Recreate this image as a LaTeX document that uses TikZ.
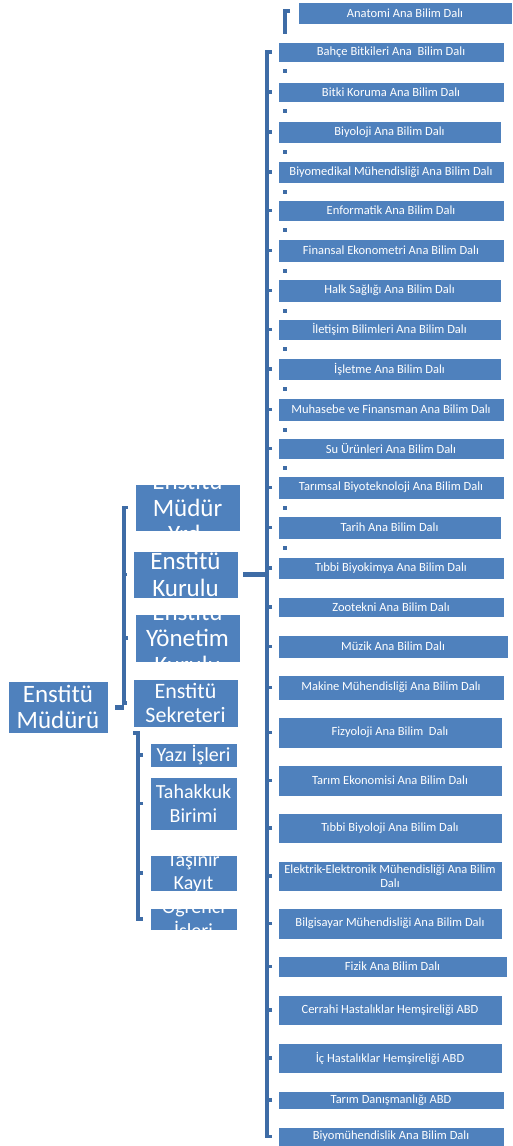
\documentclass[tikz,border=0pt]{standalone}
\usepackage{fontspec}
\setmainfont{Carlito}
\usepackage{xcolor}
\usepackage{tikz}
\definecolor{boxblue}{RGB}{79, 129, 189}
\definecolor{lineblue}{RGB}{62, 108, 166}
\newcommand{\deptfont}{\fontsize{12.5}{14}\selectfont}
\newcommand{\bigfont}{\fontsize{25}{26.5}\selectfont}
\newcommand{\midfont}{\fontsize{22}{24}\selectfont}
\newcommand{\smallfont}{\fontsize{20}{23.5}\selectfont}
\tikzset{
  unit/.style={fill=boxblue, draw=white, line width=0.8pt, inner sep=0pt, outer sep=0pt, text=white, align=center},
  dept/.style={unit, font=\deptfont, minimum width=226, minimum height=#1},
  cliptext/.style 2 args={path picture={\node[draw=none, fill=none, text=white, align=center, font=#1] at (path picture bounding box.center) {#2};}},
  bracket/.style={draw=lineblue, line width=3.5pt},
  link/.style={draw=lineblue, line width=5pt}
}

\begin{document}
\begin{tikzpicture}[x=1pt, y=-1pt]
\useasboundingbox (0,0) rectangle (513,1146);

% left part
\node[unit, minimum width=100, minimum height=52, cliptext={\bigfont}{Enstitü\\Müdürü}] (mudur) at (58,707) {};
\node[unit, minimum width=105, minimum height=47, cliptext={\bigfont}{Enstitü\\Müdür\\Yrd.}] (myrd) at (187.5,507.5) {};
\node[unit, minimum width=105, minimum height=47, cliptext={\bigfont}{Enstitü\\Kurulu}] (kurulu) at (185.5,574.5) {};
\node[unit, minimum width=105, minimum height=48, cliptext={\bigfont}{Enstitü\\Yönetim\\Kurulu}] (yonetim) at (187.5,638) {};
\node[unit, minimum width=105, minimum height=48, cliptext={\midfont}{Enstitü\\Sekreteri}] (sekreter) at (185.5,703) {};
\node[unit, minimum width=87, minimum height=24, cliptext={\smallfont}{Yazı İşleri}] (yazi) at (193.5,755) {};
\node[unit, minimum width=87, minimum height=53, cliptext={\smallfont}{Tahakkuk\\Birimi}] (tahakkuk) at (193.5,803.5) {};
\node[unit, minimum width=87, minimum height=36, cliptext={\smallfont}{Taşınır\\Kayıt}] (tasinir) at (193.5,873) {};
\node[unit, minimum width=87, minimum height=22, cliptext={\smallfont}{Öğrenci\\İşleri}] (ogrenci) at (193.5,919) {};

% departments
\node[dept=22, minimum width=214] (b1) at (405,13) {Anatomi Ana Bilim Dalı};
\node[dept=20] (b2) at (391,52) {Bahçe Bitkileri Ana~ Bilim Dalı};
\node[dept=20] (b3) at (391,92) {Bitki Koruma Ana Bilim Dalı};
\node[dept=22, minimum width=223] (b4) at (389.5,132) {Biyoloji Ana Bilim Dalı};
\node[dept=22] (b5) at (391,172) {Biyomedikal Mühendisliği Ana Bilim Dalı};
\node[dept=21] (b6) at (391,210.5) {Enformatik Ana Bilim Dalı};
\node[dept=23] (b7) at (391,250.5) {Finansal Ekonometri Ana Bilim Dalı};
\node[dept=23, minimum width=223] (b8) at (389.5,290.5) {Halk Sağlığı Ana Bilim Dalı};
\node[dept=21, minimum width=223] (b9) at (389.5,329.5) {İletişim Bilimleri Ana Bilim Dalı};
\node[dept=22, minimum width=223] (b10) at (389.5,369) {İşletme Ana Bilim Dalı};
\node[dept=23] (b11) at (391,409.5) {Muhasebe ve Finansman Ana Bilim Dalı};
\node[dept=21] (b12) at (391,448.5) {Su Ürünleri Ana Bilim Dalı};
\node[dept=23] (b13) at (391,487.5) {Tarımsal Biyoteknoloji Ana Bilim Dalı};
\node[dept=23, minimum width=223] (b14) at (389.5,527.5) {Tarih Ana Bilim Dalı};
\node[dept=22] (b15) at (391,568) {Tıbbi Biyokimya Ana Bilim Dalı};
\node[dept=20] (b16) at (391,607) {Zootekni Ana Bilim Dalı};
\node[dept=23, minimum width=230] (b17) at (393,646.5) {Müzik Ana Bilim Dalı};
\node[dept=25] (b18) at (391,687.5) {Makine Mühendisliği Ana Bilim Dalı};
\node[dept=31, minimum width=224] (b19) at (390,732.5) {Fizyoloji Ana Bilim~ Dalı};
\node[dept=31, minimum width=224] (b20) at (390,780.5) {Tarım Ekonomisi Ana Bilim Dalı};
\node[dept=30, minimum width=224] (b21) at (390,828) {Tıbbi Biyoloji Ana Bilim Dalı};
\node[dept=30, minimum width=224] (b22) at (390,876) {Elektrik-Elektronik Mühendisliği Ana Bilim\\Dalı};
\node[dept=31, minimum width=224] (b23) at (390,923.5) {Bilgisayar Mühendisliği Ana Bilim Dalı};
\node[dept=21, minimum width=229] (b24) at (392.5,966.5) {Fizik Ana Bilim Dalı};
\node[dept=30, minimum width=224] (b25) at (390,1010) {Cerrahi Hastalıklar Hemşireliği ABD};
\node[dept=30, minimum width=224] (b26) at (390,1058) {İç Hastalıklar Hemşireliği ABD};
\node[dept=18] (b27) at (391,1100) {Tarım Danışmanlığı ABD};
\node[dept=19] (b28) at (391,1136.5) {Biyomühendislik Ana Bilim Dalı};

\coordinate (mainbar) at (267,0);
\coordinate (leftbar) at (124,0);
\coordinate (innerbar) at (138,0);

% brackets
\draw[bracket] ([xshift=-8,yshift=2]b1.west) -| ++(-5,23);
\draw[bracket] ([xshift=-6]b2.west) -| (mainbar |- b28.west) -- ([xshift=-6]b28.west);
\foreach \i in {3,...,27}
  \draw[bracket] ([xshift=-6]b\i.west) -- (mainbar |- b\i.west);
\foreach \i in {2,...,14}
  \fill[lineblue] ([xshift=5,yshift=-7]b\i.south west) rectangle ++(4,4);
\draw[link] ([xshift=5]kurulu.east) -- (mainbar |- kurulu.east);

\draw[bracket] ([xshift=-7]myrd.west) -| (leftbar |- sekreter.west) -- ([xshift=-6]sekreter.west);
\draw[bracket] ([xshift=-6]kurulu.west) -- (leftbar |- kurulu.west);
\draw[bracket] ([xshift=-7]yonetim.west) -- (leftbar |- yonetim.west);
\draw[link] ([xshift=7]mudur.east) -- (leftbar |- mudur.east);

\draw[bracket] ([yshift=-6]sekreter.south west) -| (innerbar |- ogrenci.west) -- ([xshift=-7]ogrenci.west);
\foreach \n in {yazi,tahakkuk,tasinir}
  \draw[bracket] ([xshift=-7]\n.west) -- (innerbar |- \n.west);
\end{tikzpicture}
\end{document}
